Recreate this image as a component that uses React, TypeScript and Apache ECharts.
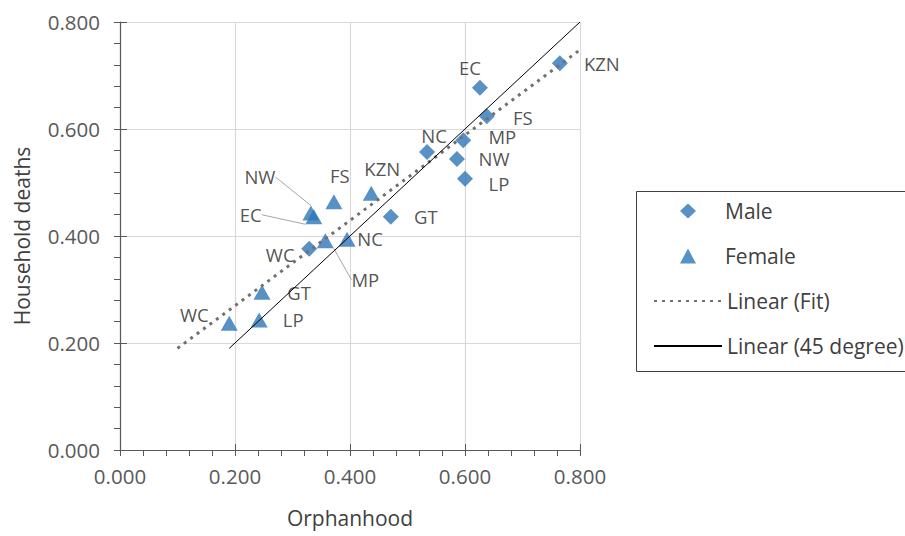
import React, { useEffect, useRef } from "react";
import * as echarts from "echarts";

// ---- data ----
const provinces = ["KZN", "EC", "FS", "MP", "NC", "NW", "LP", "GT", "WC"];
const femaleProvinces = ["KZN", "FS", "NW", "EC", "MP", "NC", "GT", "LP", "WC"];
const maleX = [0.765, 0.626, 0.638, 0.597, 0.534, 0.586, 0.6, 0.471, 0.329];
const maleY = [0.723, 0.677, 0.624, 0.579, 0.557, 0.544, 0.507, 0.436, 0.376];
const femaleX = [0.437, 0.372, 0.332, 0.337, 0.357, 0.395, 0.247, 0.242, 0.19];
const femaleY = [0.48, 0.464, 0.443, 0.436, 0.391, 0.394, 0.295, 0.243, 0.237];
const fitX = [0.1, 0.8];
const fitY = [0.19, 0.748];
const degX = [0.19, 0.8];
const degY = [0.19, 0.8];

// label placement (label centre relative to marker centre, px)
const maleLabelOffset: Record<string, [number, number]> = {
  KZN: [42, 0], EC: [-10, -20], FS: [36, 1], MP: [39, -4], NC: [7, -17],
  NW: [37, 0], LP: [34, 5], GT: [35, 0], WC: [-29, 6],
};
const femaleLabelOffset: Record<string, [number, number]> = {
  KZN: [11, -25], FS: [6, -26], NW: [-51, -36], EC: [-63, -2], MP: [40, 39],
  NC: [23, -1], GT: [37, 0], LP: [34, 0], WC: [-35, -9],
};

const FONT = "'Open Sans', sans-serif";
const BLUE = "#2e75b6";

export default function App() {
  const ref = useRef<HTMLDivElement>(null);
  useEffect(() => {
    if (!ref.current) return;
    const chart = echarts.init(ref.current, undefined, { renderer: "svg" });

    const maleData = provinces.map((n, i) => ({ name: n, value: [maleX[i], maleY[i]] }));
    const femaleData = femaleProvinces.map((n, i) => ({
      name: n,
      value: [femaleX[i], femaleY[i]],
      labelLine: { show: n === "NW" || n === "EC" || n === "MP" },
    }));

    const makeLayout = (offsets: Record<string, [number, number]>, names: string[]) => (p: any) => {
      const name = names[p.dataIndex];
      const off = offsets[name] || [0, 0];
      const cx = p.rect.x + p.rect.width / 2;
      const cy = p.rect.y + p.rect.height / 2;
      const lx = cx + off[0];
      const ly = cy + off[1];
      const res: any = { x: lx, y: ly, align: "center", verticalAlign: "middle" };
      const w = p.labelRect.width;
      if (names === femaleProvinces) {
        if (name === "NW") {
          res.labelLinePoints = [[cx, cy - 3], [cx - 11, ly], [lx + w / 2 + 3, ly]];
        } else if (name === "EC") {
          res.labelLinePoints = [[cx - 6, cy - 2], [cx - 20, cy - 2], [lx + w / 2 + 4, cy - 2]];
        } else if (name === "MP") {
          res.labelLinePoints = [[cx + 1, cy + 4], [cx + 4, ly], [lx - w / 2 - 6, ly]];
        }
      }
      return res;
    };

    const labelStyle = {
      show: true, formatter: "{b}", color: "#262626", fontSize: 18.5, lineHeight: 15, fontFamily: FONT,
    };

    const valueAxisBase = {
      type: "value",
      min: 0,
      max: 0.8,
      interval: 0.2,
    };

    const tickLabel = {
      fontSize: 20.5, color: "#595959", formatter: (v: number) => v.toFixed(3), fontFamily: FONT,
    };

    const legendText = { fontSize: 21, color: "#404040", lineHeight: 24, fontFamily: FONT };

    chart.setOption({
      animation: false,
      textStyle: { fontFamily: FONT },
      grid: { left: 120, right: 325, top: 22, bottom: 86, containLabel: false },
      xAxis: [
        {
          ...valueAxisBase,
          name: "Orphanhood",
          nameLocation: "middle",
          nameGap: 57,
          nameTextStyle: { fontSize: 21, color: "#404040", fontFamily: FONT },
          axisLine: { show: true, lineStyle: { color: "#595959", width: 1.2 } },
          axisTick: { show: true, length: 6, lineStyle: { color: "#595959" } },
          minorTick: { show: true, splitNumber: 5, length: 6, lineStyle: { color: "#595959" } },
          axisLabel: { ...tickLabel, margin: 15 },
          splitLine: { show: true, lineStyle: { color: "#d9d9d9", width: 1.2 } },
        },
        {
          ...valueAxisBase,
          position: "bottom",
          axisLine: { show: false },
          axisTick: { show: true, inside: true, length: 6, lineStyle: { color: "#595959" } },
          axisLabel: { show: false },
          splitLine: { show: false },
        },
      ],
      yAxis: [
        {
          ...valueAxisBase,
          name: "Household deaths",
          nameLocation: "middle",
          nameGap: 88,
          nameTextStyle: { fontSize: 21, color: "#404040", fontFamily: FONT },
          axisLine: { show: true, lineStyle: { color: "#595959", width: 1.2 } },
          axisTick: { show: true, length: 6, lineStyle: { color: "#595959" } },
          minorTick: { show: true, splitNumber: 5, length: 6, lineStyle: { color: "#595959" } },
          axisLabel: { ...tickLabel, margin: 20 },
          splitLine: { show: true, lineStyle: { color: "#d9d9d9", width: 1.2 } },
        },
        {
          ...valueAxisBase,
          position: "left",
          axisLine: { show: false },
          axisTick: { show: true, inside: true, length: 7, lineStyle: { color: "#595959" } },
          axisLabel: { show: false },
          splitLine: { show: false },
        },
      ],
      legend: [
        {
          orient: "vertical",
          left: 675,
          top: 194,
          itemWidth: 16,
          itemHeight: 15,
          itemGap: 21,
          textStyle: { ...legendText, padding: [0, 0, 0, 24] },
          data: [
            { name: "Male", icon: "diamond", itemStyle: { color: BLUE } },
            { name: "Female", icon: "triangle", itemStyle: { color: BLUE } },
          ],
        },
        {
          orient: "vertical",
          left: 648,
          top: 284,
          itemWidth: 68,
          itemHeight: 15,
          itemGap: 21,
          textStyle: legendText,
          data: [
            { name: "Linear (Fit)", itemStyle: { opacity: 0 } },
            { name: "Linear (45 degree)", itemStyle: { opacity: 0 } },
          ],
        },
      ],
      graphic: [
        {
          type: "rect",
          shape: { x: 636.5, y: 191.5, width: 300, height: 180 },
          style: { fill: "none", stroke: "#404040", lineWidth: 1 },
          silent: true,
        },
      ],
      series: [
        {
          name: "Male",
          type: "scatter",
          symbol: "diamond",
          symbolSize: 16,
          itemStyle: { color: BLUE },
          data: maleData,
          label: labelStyle,
          labelLayout: makeLayout(maleLabelOffset, provinces),
        },
        {
          name: "Female",
          type: "scatter",
          symbol: "triangle",
          symbolSize: [17, 15],
          itemStyle: { color: BLUE },
          data: femaleData,
          label: labelStyle,
          labelLine: { show: false, lineStyle: { color: "#a6a6a6", width: 1 } },
          labelLayout: makeLayout(femaleLabelOffset, femaleProvinces),
        },
        {
          name: "Linear (Fit)",
          type: "line",
          symbol: "none",
          data: fitX.map((x, i) => [x, fitY[i]]),
          lineStyle: { color: "#707070", width: 3, type: [3, 5] },
          itemStyle: { color: "rgba(0,0,0,0)", borderColor: "rgba(0,0,0,0)", borderWidth: 0 },
          z: 3,
        },
        {
          name: "Linear (45 degree)",
          type: "line",
          symbol: "none",
          data: degX.map((x, i) => [x, degY[i]]),
          lineStyle: { color: "#000000", width: 1 },
          itemStyle: { color: "rgba(0,0,0,0)", borderColor: "rgba(0,0,0,0)", borderWidth: 0 },
          z: 3,
        },
      ],
    });
    return () => chart.dispose();
  }, []);
  return <div ref={ref} style={{ position: "fixed", left: 0, top: 0, width: 905, height: 536, background: "#fff" }} />;
}
